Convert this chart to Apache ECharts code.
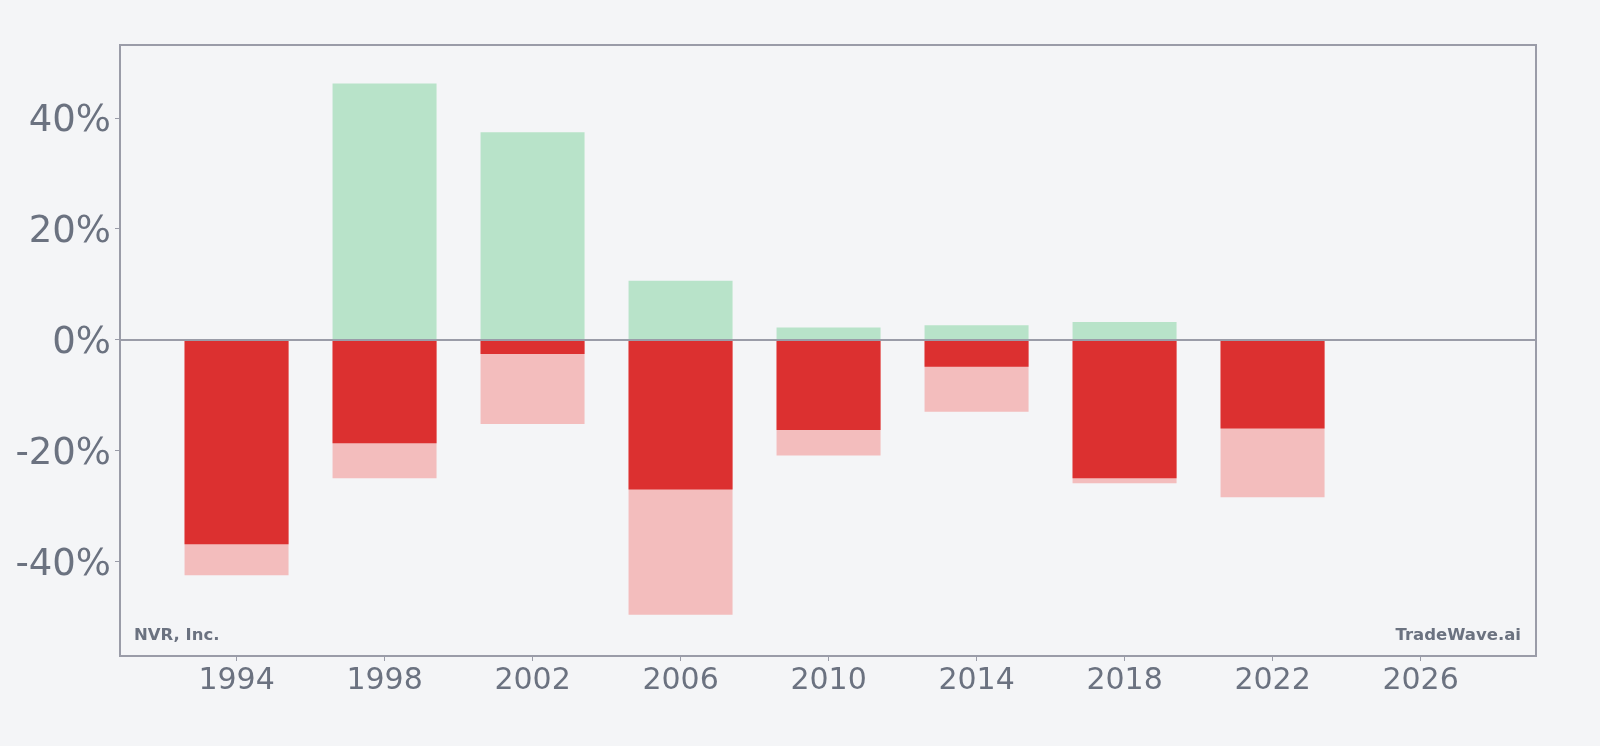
<!DOCTYPE html>
<html>
<head>
<meta charset="utf-8">
<script src="https://cdn.jsdelivr.net/npm/echarts@6/dist/echarts.min.js"></script>
<style>
  html, body { margin: 0; padding: 0; background: #f4f5f7; }
  #chart { width: 1600px; height: 746px; }
</style>
</head>
<body>
<div id="chart"></div>
<script>
// years of each bar
const years = [1994, 1998, 2002, 2006, 2010, 2014, 2018, 2022]
// upside (green), close (dark red), worst (light red), in %
const gains = [0, 46.2, 37.4, 10.6, 2.2, 2.6, 3.2, 0]
const closeLoss = [-36.9, -18.7, -2.6, -27.0, -16.3, -4.9, -25.0, -16.0]
const worstLoss = [-42.5, -25.0, -15.2, -49.6, -20.9, -13.0, -25.9, -28.4]
const xTicks = [1994, 1998, 2002, 2006, 2010, 2014, 2018, 2022, 2026]
const yTicks = [-40, -20, 0, 20, 40]

const textColor = '#6b7280'
const lineColor = '#9a9ca8'

const pair = arr => years.map((y, i) => [y, arr[i]])

const chart = echarts.init(document.getElementById('chart'))
chart.setOption({
    backgroundColor: '#f4f5f7',
    animation: false,
    textStyle: { fontFamily: 'DejaVu Sans' },
    grid: {
        left: 120, top: 45, width: 1416, height: 611,
        show: true, borderColor: lineColor, borderWidth: 2,
        backgroundColor: 'transparent'
    },
    xAxis: {
        type: 'value',
        min: 1990.85,
        max: 2029.12,
        axisLine: { show: false, onZero: false },
        splitLine: { show: false },
        axisTick: { show: true, customValues: xTicks, length: 5, lineStyle: { color: lineColor } },
        axisLabel: { customValues: xTicks, color: textColor, fontSize: 30, margin: 10, formatter: v => String(v) }
    },
    yAxis: {
        type: 'value',
        min: -57.04,
        max: 53.13,
        axisLine: { show: false, onZero: false },
        splitLine: { show: false },
        axisTick: { show: true, customValues: yTicks, length: 5, lineStyle: { color: lineColor } },
        axisLabel: {
            customValues: yTicks, color: textColor, margin: 9,
            formatter: v => '{p|' + v + '%}',
            rich: { p: { fontSize: 37, color: textColor, padding: [7, 0, 0, 0] } }
        }
    },
    series: [
        {
            name: 'gain',
            type: 'bar',
            data: pair(gains),
            barWidth: 104,
            barGap: '-100%',
            itemStyle: { color: '#b8e3c9' }
        },
        {
            name: 'worst',
            type: 'bar',
            data: pair(worstLoss),
            barWidth: 104,
            barGap: '-100%',
            itemStyle: { color: '#f3bdbd' }
        },
        {
            name: 'close',
            type: 'bar',
            data: pair(closeLoss),
            barWidth: 104,
            barGap: '-100%',
            itemStyle: { color: '#dc3030' },
            markLine: {
                silent: true,
                symbol: 'none',
                label: { show: false },
                lineStyle: { color: lineColor, width: 2, type: 'solid' },
                data: [{ yAxis: 0 }]
            }
        }
    ],
    graphic: [
        {
            type: 'text', left: 134, top: 627,
            style: { text: 'NVR, Inc.', fill: textColor, font: 'bold 16.5px "DejaVu Sans"' }
        },
        {
            type: 'text', right: 79, top: 627,
            style: { text: 'TradeWave.ai', fill: textColor, font: 'bold 16.5px "DejaVu Sans"' }
        }
    ]
})
</script>
</body>
</html>
